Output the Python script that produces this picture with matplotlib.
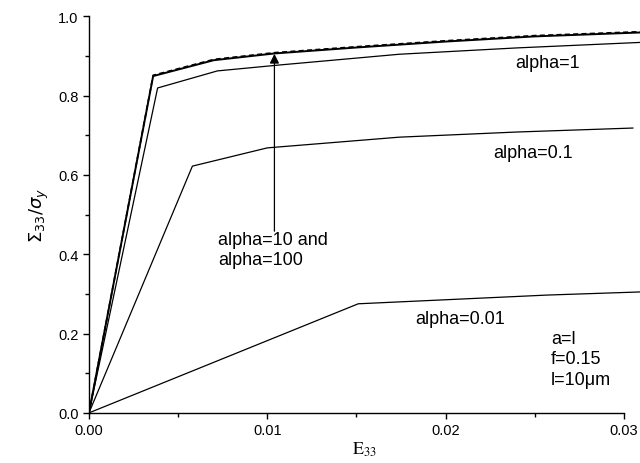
import matplotlib
matplotlib.use("Agg")
import matplotlib.pyplot as plt
from matplotlib.ticker import MultipleLocator

plt.rcParams['font.family'] = ['Liberation Sans', 'DejaVu Sans']
plt.rcParams['mathtext.fontset'] = 'stix'

# strain / normalised stress
e_a10 = [0.0, 0.0036, 0.0070, 0.0104, 0.0150, 0.0200, 0.0250, 0.0310]
s_a10 = [0.0, 0.849, 0.889, 0.906, 0.921, 0.936, 0.949, 0.959]
e_a100 = [0.0, 0.0036, 0.0070, 0.0104, 0.0150, 0.0200, 0.0250, 0.0310]
s_a100 = [0.0, 0.851, 0.891, 0.908, 0.923, 0.938, 0.951, 0.961]
e_a1 = [0.0, 0.00385, 0.0072, 0.0107, 0.0174, 0.0240, 0.0310]
s_a1 = [0.0, 0.819, 0.862, 0.877, 0.904, 0.920, 0.934]
e_a01 = [0.0, 0.0058, 0.0100, 0.0174, 0.0240, 0.0305]
s_a01 = [0.0, 0.622, 0.668, 0.695, 0.708, 0.718]
e_a001 = [0.0, 0.0151, 0.0257, 0.0310]
s_a001 = [0.0, 0.275, 0.297, 0.305]

fig = plt.figure(figsize=(6.4, 4.64), dpi=100)
ax = fig.add_axes([0.139, 0.108, 0.861, 0.855])

ax.plot(e_a10, s_a10, color='black', lw=1.4)
ax.plot(e_a100, s_a100, color='black', lw=1.2, ls=(0, (3, 2)))
ax.plot(e_a1, s_a1, color='black', lw=0.9)
ax.plot(e_a01, s_a01, color='black', lw=0.9)
ax.plot(e_a001, s_a001, color='black', lw=0.9)

ax.annotate('', xy=(0.0104, 0.905), xytext=(0.0104, 0.458),
            arrowprops=dict(arrowstyle='-|>', color='black', lw=0.9,
                            mutation_scale=14, shrinkA=0, shrinkB=0))

fs = 13
ax.text(0.00726, 0.412, 'alpha=10 and\nalpha=100', fontsize=fs, va='center',
        ha='left', linespacing=1.25)
ax.text(0.0239, 0.884, 'alpha=1', fontsize=fs, va='center', ha='left')
ax.text(0.02268, 0.657, 'alpha=0.1', fontsize=fs, va='center', ha='left')
ax.text(0.01832, 0.239, 'alpha=0.01', fontsize=fs, va='center', ha='left')
ax.text(0.02592, 0.136, 'a=l\nf=0.15\nl=10\u03bcm', fontsize=fs, va='center',
        ha='left', linespacing=1.25)

ax.set_xlim(0, 0.0309)
ax.set_ylim(0, 1.0)
ax.spines['top'].set_visible(False)
ax.spines['right'].set_visible(False)
ax.spines['bottom'].set_bounds(0, 0.03)
ax.spines['left'].set_linewidth(1.0)
ax.spines['bottom'].set_linewidth(1.0)

ax.set_xticks([0.0, 0.01, 0.02, 0.03])
ax.set_xticklabels(['0.00', '0.01', '0.02', '0.03'])
ax.xaxis.set_minor_locator(MultipleLocator(0.005))
ax.set_yticks([0.0, 0.2, 0.4, 0.6, 0.8, 1.0])
ax.set_yticklabels(['0.0', '0.2', '0.4', '0.6', '0.8', '1.0'])
ax.yaxis.set_minor_locator(MultipleLocator(0.1))
ax.tick_params(which='major', direction='out', length=4, width=1.0, labelsize=10.5)
ax.tick_params(which='minor', direction='out', length=3, width=1.0)

ax.set_xlabel(r'$\mathrm{E}_{33}$', fontsize=13, labelpad=2)
ax.set_ylabel(r'$\Sigma_{33}/\sigma_{y}$', fontsize=13, labelpad=5,
              math_fontfamily='dejavusans')

fig.savefig('out.png', dpi=100)
